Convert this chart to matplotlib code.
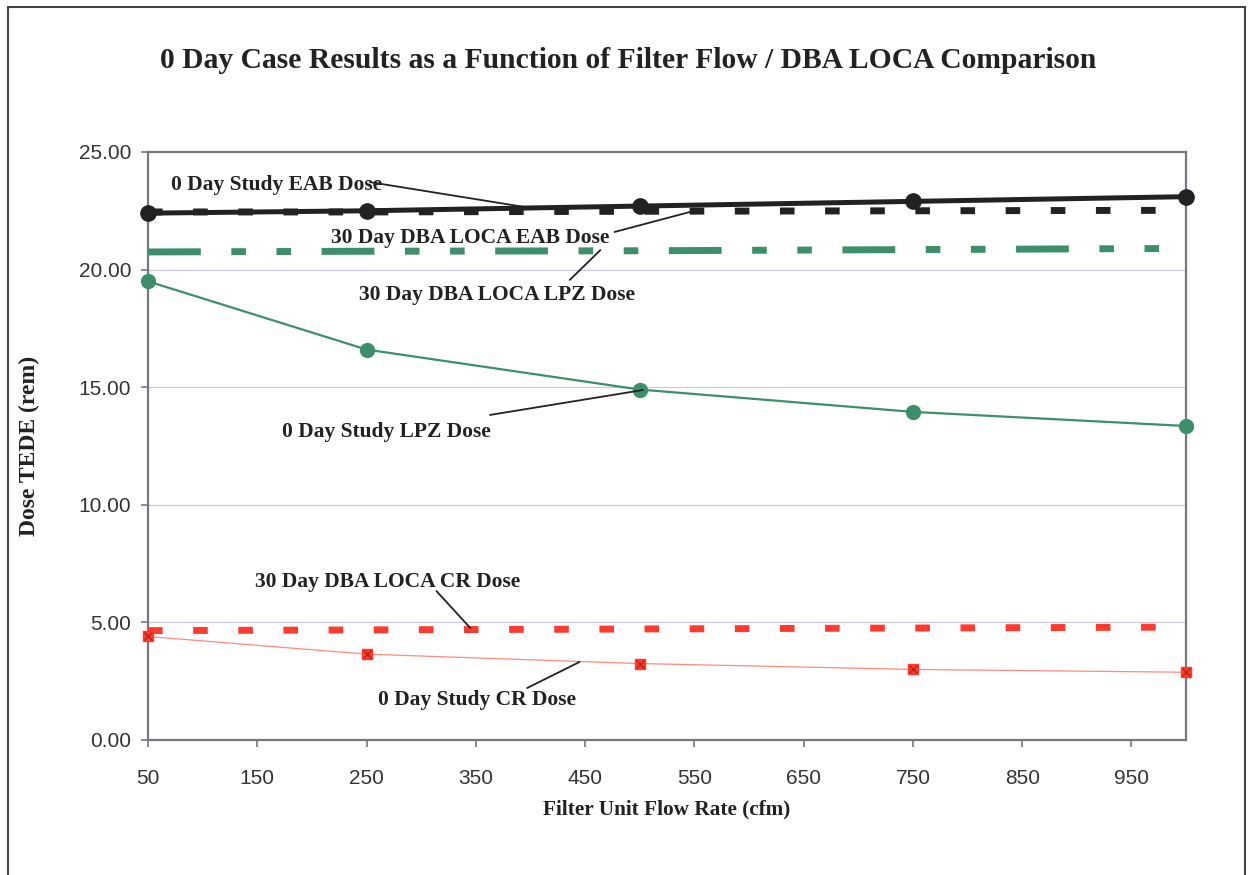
import matplotlib
matplotlib.use('Agg')
import matplotlib.pyplot as plt
from matplotlib.patches import Rectangle

# filter flow rates (cfm)
flow = [50, 250, 500, 750, 1000]

# dose values (rem)
eab_0day = [22.40, 22.50, 22.70, 22.90, 23.10]
eab_30day = [22.45, 22.45, 22.48, 22.50, 22.52]
lpz_30day = [20.75, 20.78, 20.80, 20.85, 20.90]
lpz_0day = [19.50, 16.60, 14.90, 13.95, 13.35]
cr_30day = [4.65, 4.68, 4.72, 4.76, 4.80]
cr_0day = [4.40, 3.65, 3.25, 3.00, 2.88]

x_ticks = [50, 150, 250, 350, 450, 550, 650, 750, 850, 950]
y_ticks = [0, 5, 10, 15, 20, 25]

black = '#222222'
green = '#3d8f6c'
red = '#ff3b2f'
serif = 'Liberation Serif'
sans = 'Liberation Sans'

fig = plt.figure(figsize=(12.49, 8.75), dpi=100)
ax = fig.add_axes([0.1185, 0.1543, 0.8311, 0.672])

# outer frame of the chart
fig.patches.append(Rectangle((8 / 1249, -0.05), 1237 / 1249, 1.05 - 7 / 875,
                             transform=fig.transFigure, fill=False,
                             edgecolor='#444444', linewidth=1.5))

ax.set_xlim(50, 1000)
ax.set_ylim(0, 25)
ax.set_xticks(x_ticks)
ax.set_yticks(y_ticks)
ax.set_yticklabels(['%.2f' % v for v in y_ticks])
ax.grid(axis='y', color='#c8c8d2', linewidth=0.8)
ax.set_axisbelow(True)
for s in ax.spines.values():
    s.set_color('#77777f')
    s.set_linewidth(1.6)
ax.tick_params(axis='both', direction='out', length=5, width=1.2,
               color='#77777f', labelsize=15, labelcolor='#333333')
ax.tick_params(axis='x', pad=16)
ax.tick_params(axis='y', pad=7)
for lab in ax.get_xticklabels() + ax.get_yticklabels():
    lab.set_family(sans)

# 30 day DBA LOCA series (dashed, no markers)
ax.plot(flow, eab_30day, color=black, linewidth=5, dashes=(2.1, 4.4),
        clip_on=False, zorder=3)
ax.plot(flow, lpz_30day, color=green, linewidth=5,
        dashes=(7.6, 4.4, 2.1, 4.4, 2.1, 4.4), clip_on=False, zorder=3)
ax.plot(flow, cr_30day, color=red, linewidth=5, dashes=(2.1, 4.4),
        clip_on=False, zorder=3)

# 0 day study series
ax.plot(flow, eab_0day, color=black, linewidth=3.6, marker='o',
        markersize=11, clip_on=False, zorder=4)
ax.plot(flow, lpz_0day, color=green, linewidth=1.6, marker='o',
        markersize=10, clip_on=False, zorder=4)
ax.plot(flow, cr_0day, color='#ff8a80', linewidth=0.9, marker='s',
        markersize=7, markerfacecolor=red, markeredgecolor=red,
        clip_on=False, zorder=4)
ax.plot(flow, cr_0day, linestyle='none', marker='x', markersize=6,
        markeredgecolor='#c02010', markeredgewidth=1, clip_on=False, zorder=5)

# labels with leader lines
labels = [
    ('0 Day Study EAB Dose', (168, 23.6), (253, 23.72), (400, 22.62)),
    ('30 Day DBA LOCA EAB Dose', (345, 21.34), (477, 21.6), (546, 22.45)),
    ('30 Day DBA LOCA LPZ Dose', (369, 18.92), (436, 19.56), (464, 20.83)),
    ('0 Day Study LPZ Dose', (268, 13.1), (363, 13.82), (503, 14.88)),
    ('30 Day DBA LOCA CR Dose', (269, 6.72), (314, 6.33), (345, 4.76)),
    ('0 Day Study CR Dose', (351, 1.70), (397, 2.21), (445, 3.32)),
]
for text, pos, start, end in labels:
    ax.text(pos[0], pos[1], text, ha='center', va='center', fontsize=15.5,
            fontweight='bold', family=serif, color='#222222', zorder=6)
    ax.annotate('', xy=end, xytext=start,
                arrowprops=dict(arrowstyle='-', color='#222222', lw=1.3,
                                shrinkA=0, shrinkB=0), zorder=6)

ax.set_xlabel('Filter Unit Flow Rate (cfm)', fontsize=15.3, fontweight='bold',
              family=serif, color='#222222', labelpad=8)
ax.yaxis.set_label_coords(-0.104, 0.52)
ax.set_ylabel('Dose TEDE (rem)', fontsize=17, fontweight='bold',
              family=serif, color='#222222')
fig.text(0.503, 1 - 60 / 875,
         '0 Day Case Results as a Function of Filter Flow / DBA LOCA Comparison',
         ha='center', va='center', fontsize=21.3, fontweight='bold',
         family=serif, color='#222222')

fig.savefig('out.png', dpi=100)
